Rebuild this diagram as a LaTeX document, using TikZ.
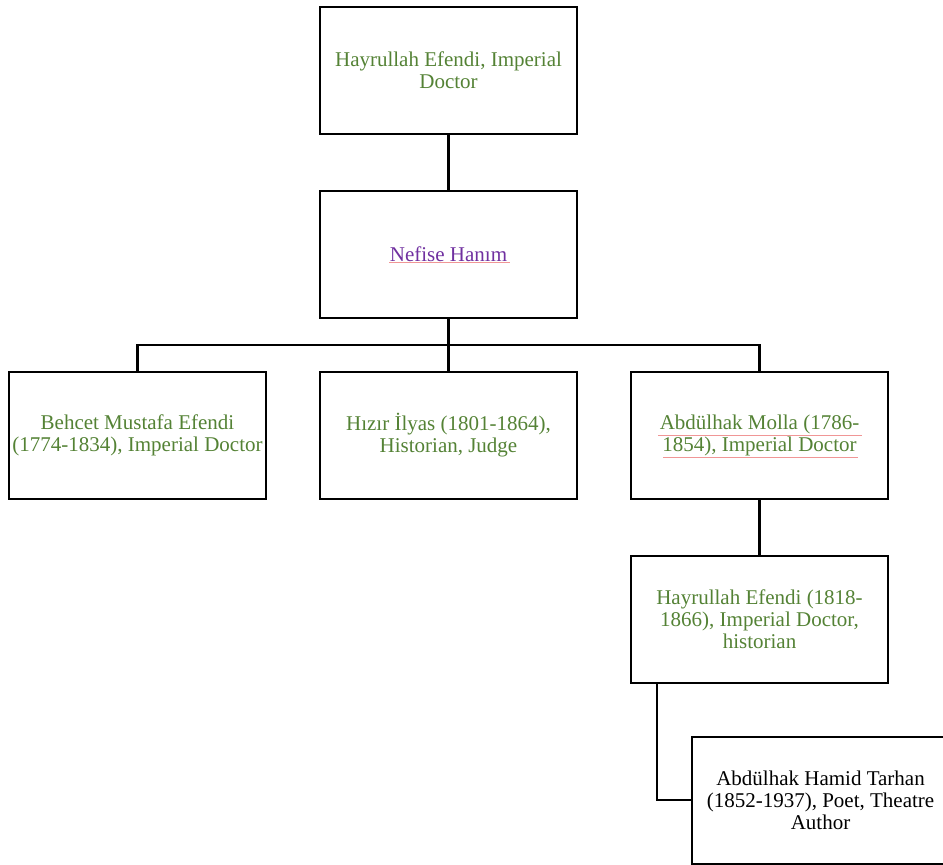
\documentclass[tikz,border=0pt]{standalone}
\usepackage{fontspec}
\setmainfont{Liberation Serif}
\definecolor{txtgreen}{RGB}{84,130,53}
\definecolor{txtpurple}{RGB}{112,48,160}
\definecolor{spell}{RGB}{240,150,150}
\begin{document}
\begin{tikzpicture}[x=1pt,y=-1pt,
  person/.style={draw=black,line width=2pt,minimum width=257pt,minimum height=127pt,
    inner sep=0pt,align=center,font=\fontsize{21}{22}\selectfont,text=txtgreen},
  link/.style={line width=2.5pt,line cap=rect}]
\useasboundingbox (0,0) rectangle (943,865);
\node[person] (hay1) at (448.5,70.5) {Hayrullah Efendi, Imperial\\Doctor};
\node[person,text=txtpurple] (nef) at (448.5,254) {Nefise Hanım};
\node[person] (beh) at (137.5,435) {Behcet Mustafa Efendi\\(1774-1834), Imperial Doctor};
\node[person] (hiz) at (448.5,435) {Hızır İlyas (1801-1864),\\Historian, Judge};
\node[person] (abd) at (759.5,435) {Abdülhak Molla (1786-\\1854), Imperial Doctor};
\node[person] (hay2) at (759.5,619.5) {Hayrullah Efendi (1818-\\1866), Imperial Doctor,\\historian};
\node[person,text=black] (tar) at (820.5,800) {Abdülhak Hamid Tarhan\\(1852-1937), Poet, Theatre\\Author};
\coordinate (bus) at (448.5,345);
\coordinate (elbow) at (657,800);
% parent to child links
\draw[link] (hay1.south) -- (nef.north);
\draw[link] (nef.south) -- (bus);
\draw[link] (beh.north) |- (bus) -| (abd.north);
\draw[link] (bus) -- (hiz.north);
\draw[link] (abd.south) -- (hay2.north);
\draw[link] (hay2.south -| elbow) -- (elbow) -- (tar.west);
% proofing underlines
\draw[spell,line width=0.8pt] (389,262) -- (510,262);
\draw[spell,line width=0.8pt] (658,435.5) -- (862,435.5);
\draw[spell,line width=0.8pt] (663,457.5) -- (858,457.5);
\end{tikzpicture}
\end{document}
